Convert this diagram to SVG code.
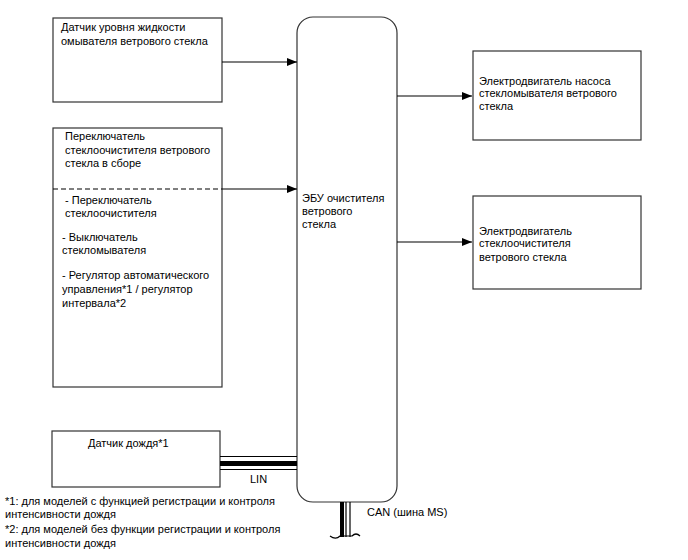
<svg xmlns="http://www.w3.org/2000/svg" width="688" height="560" viewBox="0 0 688 560">
<defs>
<marker id="arr" markerWidth="10" markerHeight="8" refX="10" refY="4" orient="auto" markerUnits="userSpaceOnUse">
<path d="M0,0 L10,4 L0,8 z" fill="#000"/>
</marker>
<style>
text{font-family:"Liberation Sans",Arial,sans-serif;font-size:11px;fill:#000}
.box{fill:#fff;stroke:#333;stroke-width:1.2}
.ln{stroke:#000;stroke-width:1.2;fill:none}
</style>
</defs>
<rect width="688" height="560" fill="#fff"/>
<g id="ecu">
<rect class="box" x="297" y="17" width="100" height="485" rx="16" ry="16"/>
<text x="302" y="202">ЭБУ очистителя</text>
<text x="302" y="214.5">ветрового</text>
<text x="302" y="228">стекла</text>
</g>
<g id="level-sensor">
<rect class="box" x="53" y="18" width="169" height="84"/>
<text x="61" y="31">Датчик уровня жидкости</text>
<text x="61" y="44.5">омывателя ветрового стекла</text>
</g>
<g id="wiper-switch">
<rect class="box" x="53" y="128" width="169" height="259"/>
<line x1="53" y1="189" x2="222" y2="189" stroke="#000" stroke-width="1.2" stroke-dasharray="5,3"/>
<text x="65" y="140">Переключатель</text>
<text x="65" y="153.5">стеклоочистителя ветрового</text>
<text x="65" y="167">стекла в сборе</text>
<text x="65" y="204">- Переключатель</text>
<text x="65" y="217">стеклоочистителя</text>
<text x="62" y="241">- Выключатель</text>
<text x="62" y="253.5">стекломывателя</text>
<text x="62" y="279">- Регулятор автоматического</text>
<text x="62" y="293">управления*1 / регулятор</text>
<text x="62" y="306.5">интервала*2</text>
</g>
<g id="rain-sensor">
<rect class="box" x="52" y="431" width="168" height="56"/>
<text x="88" y="447">Датчик дождя*1</text>
</g>
<g id="pump-motor">
<rect class="box" x="473" y="51" width="168" height="89"/>
<text x="479" y="84.5">Электродвигатель насоса</text>
<text x="479" y="97">стекломывателя ветрового</text>
<text x="479" y="110">стекла</text>
</g>
<g id="wiper-motor">
<rect class="box" x="473" y="196" width="168" height="93"/>
<text x="479" y="234.5">Электродвигатель</text>
<text x="479" y="247">стеклоочистителя</text>
<text x="479" y="260.5">ветрового стекла</text>
</g>
<g id="connectors">
<line class="ln" x1="222" y1="62" x2="297" y2="62" marker-end="url(#arr)"/>
<line class="ln" x1="222" y1="189" x2="297" y2="189" marker-end="url(#arr)"/>
<line class="ln" x1="397" y1="96" x2="472" y2="96" marker-end="url(#arr)"/>
<line class="ln" x1="397" y1="242" x2="472" y2="242" marker-end="url(#arr)"/>
<g id="lin">
<line x1="220" y1="456.5" x2="297" y2="456.5" stroke="#000" stroke-width="1.2"/>
<line x1="220" y1="463.5" x2="297" y2="463.5" stroke="#000" stroke-width="5"/>
<line x1="220" y1="469.5" x2="297" y2="469.5" stroke="#000" stroke-width="1.2"/>
<text x="250" y="483">LIN</text>
</g>
<g id="can">
<line x1="342" y1="502" x2="342" y2="537" stroke="#000" stroke-width="4"/>
<line x1="346" y1="502" x2="346" y2="537" stroke="#000" stroke-width="1.2"/>
<line x1="350" y1="502" x2="350" y2="537" stroke="#000" stroke-width="1.2"/>
<path d="M330,536 C334,539 337,539 340,536 L352,536 C355,533 358,534 360,536" fill="none" stroke="#000" stroke-width="1.2"/>
<text x="367" y="516">CAN (шина MS)</text>
</g>
</g>
<g id="notes">
<text x="5" y="505">*1: для моделей с функцией регистрации и контроля</text>
<text x="5" y="518">интенсивности дождя</text>
<text x="5" y="533">*2: для моделей без функции регистрации и контроля</text>
<text x="5" y="546.5">интенсивности дождя</text>
</g>
</svg>
